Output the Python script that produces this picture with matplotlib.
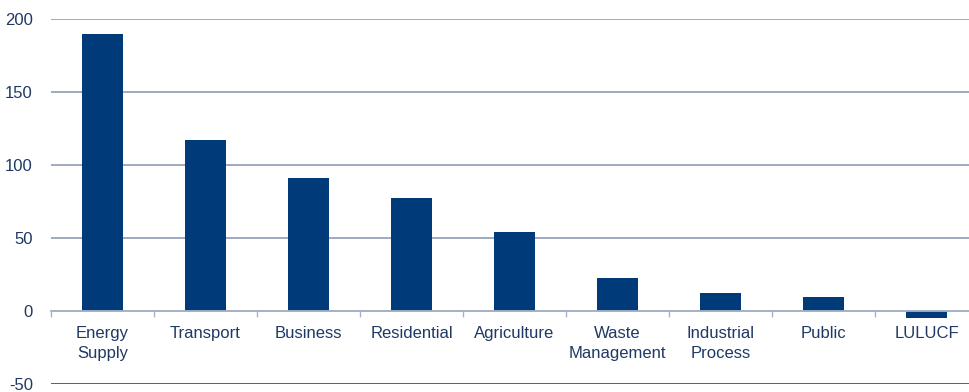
import numpy as np
import matplotlib
matplotlib.use("Agg")
import matplotlib.pyplot as plt

categories = ["Energy\nSupply", "Transport", "Business", "Residential", "Agriculture",
              "Waste\nManagement", "Industrial\nProcess", "Public", "LULUCF"]
values = [190, 117, 91, 77.5, 54, 22.5, 12.5, 9.5, -5]
yticks = [-50, 0, 50, 100, 150, 200]

bar_col = "#003A78"
grid_col = "#8593AD"
txt_col = "#1F3864"

plt.rcParams['font.family'] = ['Liberation Sans', 'DejaVu Sans']
plt.rcParams['axes.unicode_minus'] = False

fig = plt.figure(figsize=(9.69, 3.92), dpi=100)
ax = fig.add_axes([51/969, 8/392, 927/969, 365/392])

x = np.arange(len(categories))
ax.bar(x, values, width=0.39, color=bar_col, zorder=3)

ax.set_xlim(-0.5, len(categories) - 0.5)
ax.set_ylim(-50, 200)
ax.set_yticks(yticks)
ax.yaxis.grid(True, color=grid_col, linewidth=1.1, zorder=0)
ax.get_ygridlines()[0].set_color("#4A6186")
ax.get_ygridlines()[0].set_linewidth(1.4)
ax.tick_params(axis='y', length=0, pad=13, labelsize=12, labelcolor=txt_col)

for s in ['left', 'right', 'top']:
    ax.spines[s].set_visible(False)
ax.spines['bottom'].set_position(('data', 0))
ax.spines['bottom'].set_color("#A7B3C8")
ax.spines['bottom'].set_linewidth(1.3)
ax.spines['bottom'].set_zorder(4)

ax.set_xticks(np.arange(len(categories) + 1) - 0.5)
ax.set_xticklabels([])
ax.set_xticks(x, minor=True)
ax.set_xticklabels(categories, minor=True)
ax.tick_params(axis='x', which='major', length=4, width=1, color="#A7B3C8", direction='out')
ax.tick_params(axis='x', which='minor', length=0, pad=11, labelsize=12, labelcolor=txt_col)
for t in ax.get_xticklabels(minor=True):
    t.set_linespacing(1.4)

fig.savefig("out.png", dpi=100)
